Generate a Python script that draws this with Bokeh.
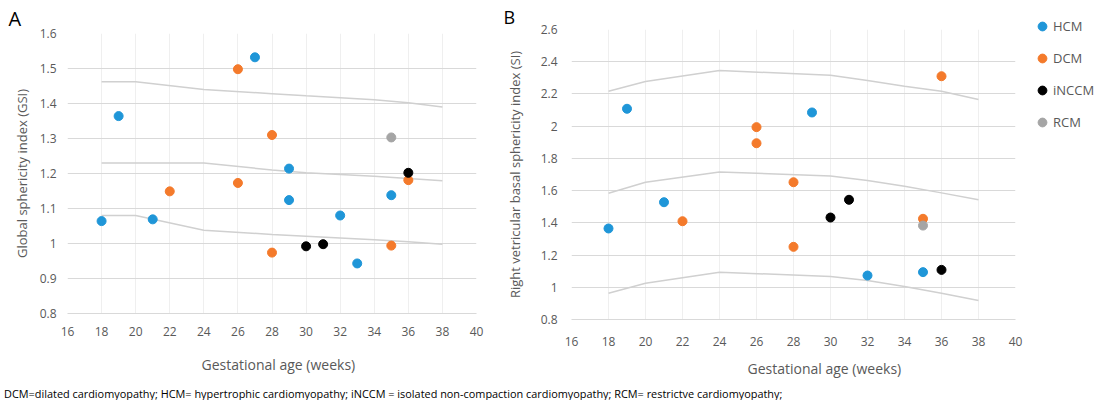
from bokeh.plotting import figure
from bokeh.models import Legend, LegendItem, FixedTicker, Title, Div
from bokeh.layouts import row, column
from bokeh.embed import file_html
from bokeh.resources import INLINE

FONT = "Open Sans"
GREY_TXT = "#595959"

# ---------------- data ----------------
week_ticks = [16, 18, 20, 22, 24, 26, 28, 30, 32, 34, 36, 38, 40]

a_y_ticks = [0.8, 0.9, 1.0, 1.1, 1.2, 1.3, 1.4, 1.5, 1.6]
a_y_labels = ["0.8", "0.9", "1", "1.1", "1.2", "1.3", "1.4", "1.5", "1.6"]
b_y_ticks = [0.8, 1.0, 1.2, 1.4, 1.6, 1.8, 2.0, 2.2, 2.4, 2.6]
b_y_labels = ["0.8", "1", "1.2", "1.4", "1.6", "1.8", "2", "2.2", "2.4", "2.6"]

groups = ["HCM", "DCM", "iNCCM", "RCM"]
group_colors = ["#1F96D8", "#F47A2B", "#000000", "#A5A5A5"]

# Panel A: global sphericity index
a_hcm_x = [18, 19, 21, 27, 29, 29, 32, 33, 35]
a_hcm_y = [1.064, 1.364, 1.069, 1.532, 1.214, 1.124, 1.080, 0.943, 1.138]
a_dcm_x = [22, 26, 26, 28, 28, 35, 36]
a_dcm_y = [1.149, 1.498, 1.173, 1.310, 0.974, 0.994, 1.181]
a_inccm_x = [30, 31, 36]
a_inccm_y = [0.992, 0.998, 1.202]
a_rcm_x = [35]
a_rcm_y = [1.303]

a_ref_x = [18, 20, 24, 28, 30, 34, 36, 38]
a_ref_upper = [1.462, 1.462, 1.440, 1.428, 1.422, 1.411, 1.402, 1.390]
a_ref_mid = [1.230, 1.230, 1.230, 1.210, 1.202, 1.192, 1.186, 1.179]
a_ref_lower = [1.080, 1.080, 1.038, 1.026, 1.021, 1.011, 1.005, 0.998]

# Panel B: right ventricular basal sphericity index
b_hcm_x = [18, 19, 21, 29, 32, 35]
b_hcm_y = [1.365, 2.108, 1.528, 2.085, 1.073, 1.094]
b_dcm_x = [22, 26, 26, 28, 28, 35, 36]
b_dcm_y = [1.410, 1.994, 1.894, 1.652, 1.251, 1.425, 2.310]
b_inccm_x = [30, 31, 36]
b_inccm_y = [1.433, 1.543, 1.108]
b_rcm_x = [35]
b_rcm_y = [1.383]

b_ref_x = [18, 20, 24, 30, 32, 34, 36, 38]
b_ref_upper = [2.217, 2.277, 2.345, 2.316, 2.283, 2.248, 2.217, 2.166]
b_ref_mid = [1.584, 1.652, 1.716, 1.690, 1.663, 1.627, 1.586, 1.543]
b_ref_lower = [0.963, 1.025, 1.094, 1.067, 1.042, 1.005, 0.963, 0.918]

x_label = "Gestational age (weeks)"
a_y_label = "Global sphericity index (GSI)"
b_y_label = "Right vetricular basal sphericity index (SI)"
footnote = ("DCM=dilated cardiomyopathy; HCM= hypertrophic cardiomyopathy; "
            "iNCCM = isolated non-compaction cardiomyopathy; RCM= restrictve cardiomyopathy;")


def make_panel(y_range, y_ticks, y_labels, frame_w, frame_h, borders, ylab,
               ylab_standoff, ytick_standoff, xtick_standoff):
    left, right, top, bottom = borders
    p = figure(frame_width=frame_w, frame_height=frame_h,
               min_border_left=left, min_border_right=right,
               min_border_top=top, min_border_bottom=bottom,
               x_range=(16, 40), y_range=y_range,
               output_backend="svg", toolbar_location=None)
    p.outline_line_color = None
    p.background_fill_color = "white"
    p.border_fill_color = "white"

    p.xaxis.ticker = FixedTicker(ticks=week_ticks)
    p.yaxis.ticker = FixedTicker(ticks=y_ticks)
    p.yaxis.major_label_overrides = {t: l for t, l in zip(y_ticks, y_labels)}
    for ax in (p.xaxis, p.yaxis):
        ax.major_tick_line_color = None
        ax.minor_tick_line_color = None
        ax.major_tick_out = 0
        ax.major_tick_in = 0
        ax.major_label_text_font = FONT
        ax.major_label_text_font_size = "12px"
        ax.major_label_text_color = GREY_TXT
        ax.axis_label_text_font = FONT
        ax.axis_label_text_font_style = "normal"
        ax.axis_label_text_color = GREY_TXT
    p.xaxis.axis_line_color = "#D9D9D9"
    p.yaxis.axis_line_color = None
    p.xaxis.major_label_standoff = xtick_standoff
    p.yaxis.major_label_standoff = ytick_standoff
    p.yaxis.axis_label = ylab
    p.yaxis.axis_label_text_font_size = "13px"
    p.yaxis.axis_label_standoff = ylab_standoff

    p.ygrid.grid_line_color = "#D9D9D9"
    p.xgrid.grid_line_color = "#EFEFEF"
    p.ygrid.ticker = FixedTicker(ticks=y_ticks)
    p.xgrid.ticker = FixedTicker(ticks=week_ticks)
    return p


def add_series(p, ref_x, refs, pts):
    for ry in refs:
        p.line(ref_x, ry, line_color="#D0D0D0", line_width=1.5)
    rs = []
    for (xs, ys), c in zip(pts, group_colors):
        rs.append(p.scatter(xs, ys, size=9, marker="circle",
                            fill_color=c, line_color=c))
    return rs


def panel_letter(text, offset, standoff, size):
    return Title(text=text, align="left", offset=offset, standoff=standoff,
                 text_font=FONT, text_font_size=size, text_font_style="normal",
                 text_color="black")


# ---------------- panel A ----------------
pA = make_panel((0.8, 1.6), a_y_ticks, a_y_labels, 409, 280, (67, 24, 33, 65),
                a_y_label, 6, 11, 13)
add_series(pA, a_ref_x, [a_ref_upper, a_ref_mid, a_ref_lower],
           [(a_hcm_x, a_hcm_y), (a_dcm_x, a_dcm_y), (a_inccm_x, a_inccm_y), (a_rcm_x, a_rcm_y)])
pA.add_layout(Title(text=x_label, align="left", offset=134, standoff=28,
                    text_font=FONT, text_font_size="14px", text_font_style="normal",
                    text_color=GREY_TXT), "below")
pA.add_layout(panel_letter("A", -59, 3, "20px"), "above")

# ---------------- panel B ----------------
pB = make_panel((0.8, 2.6), b_y_ticks, b_y_labels, 444, 290, (71, 89, 29, 65),
                b_y_label, 14, 14, 17)
rB = add_series(pB, b_ref_x, [b_ref_upper, b_ref_mid, b_ref_lower],
                [(b_hcm_x, b_hcm_y), (b_dcm_x, b_dcm_y), (b_inccm_x, b_inccm_y), (b_rcm_x, b_rcm_y)])
pB.add_layout(Title(text=x_label, align="left", offset=176, standoff=16,
                    text_font=FONT, text_font_size="14px", text_font_style="normal",
                    text_color=GREY_TXT), "below")
pB.add_layout(panel_letter("B", -68, 2, "18px"), "above")

legend = Legend(items=[LegendItem(label=g, renderers=[r]) for g, r in zip(groups, rB)],
                location=(16, 186), orientation="vertical",
                glyph_width=22, glyph_height=22, label_height=20,
                label_standoff=0, spacing=10, padding=0, margin=0,
                border_line_color=None, background_fill_alpha=0,
                label_text_font=FONT, label_text_font_size="13px",
                label_text_color=GREY_TXT)
pB.add_layout(legend, "right")

note = Div(text=footnote, width=1104, height=14, margin=(0, 0, 0, 0),
           styles={"font-family": "Open Sans", "font-size": "10.9px",
                   "color": "black", "white-space": "nowrap", "line-height": "14px",
                   "padding-left": "4px"})

layout = column(row(column(pA), column(pB), spacing=0), note, spacing=0)

with open("out.html", "w") as f:
    f.write(file_html(layout, INLINE))
